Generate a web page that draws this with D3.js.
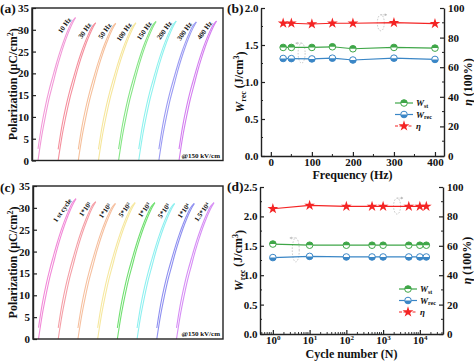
<!DOCTYPE html>
<meta charset="utf-8">
<script src="https://d3js.org/d3.v7.min.js"></script>
<style>
  body { margin: 0; background: #fff; }
  text { font-family: "Liberation Serif", "Times New Roman", serif; font-weight: bold; fill: #111; }
</style>
<div id="chart"></div>
<script>

  // ---------------- data ----------------
  // P-E loops (a): frequency series
  var freqLabels = ["10 Hz", "30 Hz", "50 Hz", "100 Hz", "150 Hz", "200 Hz", "300 Hz", "400 Hz"];
  var freqPmax = [32.8, 31.6, 31.5, 31.6, 31.9, 32.0, 31.8, 32.0];
  var freqColors = ["#f29ad8", "#f5909e", "#f6c09c", "#f6e69c", "#86e686", "#8ff2ee", "#9c9cf3", "#d47ff0"];

  // P-E loops (c): cycling series
  var cycleLabels = ["1 st cycle", "1*10¹", "1*10²", "5*10²", "1*10³", "5*10³", "1*10⁴", "1.5*10⁴"];
  var cyclePmax = [32.1, 31.4, 31.0, 31.2, 31.2, 31.0, 31.0, 31.2];
  var cycleColors = ["#f28ad8", "#f5a0a8", "#f6c0a0", "#f6e8a0", "#72e072", "#8ff0f0", "#8f90f0", "#d78ff5"];

  // shared loop shape (kV/cm, uC/cm2 for a loop reaching 32)
  var fieldKV = [0, 15, 30, 45, 60, 75, 90, 105, 120, 135, 150];
  var chargeP = [0, 5.5, 10, 14, 17.3, 20.6, 23.5, 26.1, 28.4, 30.4, 32];
  var dischargeP = [2.6, 8.0, 12.3, 15.9, 19.0, 22.0, 24.7, 27.1, 29.2, 31.0, 32];

  // (b) energy storage vs frequency
  var freq = [30, 50, 100, 150, 200, 300, 400];
  var wstFreq = [1.467, 1.467, 1.467, 1.476, 1.449, 1.467, 1.458];
  var wrecFreq = [1.318, 1.316, 1.312, 1.322, 1.297, 1.322, 1.305];
  var etaFreq = [89.7, 89.7, 89.2, 89.7, 89.7, 90.1, 89.4];

  // (d) energy storage vs cycle number
  var cycles = [1, 10, 100, 500, 1000, 5000, 10000, 15000];
  var wstCyc = [1.53, 1.51, 1.51, 1.51, 1.51, 1.51, 1.51, 1.51];
  var wrecCyc = [1.30, 1.32, 1.31, 1.31, 1.31, 1.31, 1.31, 1.31];
  var etaCyc = [85.2, 87.5, 86.8, 86.8, 86.8, 86.8, 86.8, 86.8];

  var green = "#3fa648", blue = "#3a86c6", red = "#f42424";

  var svg = d3.select("#chart").append("svg")
    .attr("width", 474)
    .attr("height", 361);

  function styleAxis(sel) {
    sel.select(".domain").attr("stroke", "#222").attr("stroke-width", 1.4);
    sel.selectAll(".tick line").attr("stroke", "#222").attr("stroke-width", 1.2);
    sel.selectAll(".tick text").style("font-size", "11px");
  }

  function panelLetter(x, y, s) {
    svg.append("text").attr("x", x).attr("y", y).style("font-size", "13.5px").text(s);
  }

  // ---------------- P-E loop panels ----------------
  function loopPanel(p, labels, pmax, colors, firstX, lastX) {
    var y = d3.scaleLinear().domain([0, 35]).range([p.bottom, p.top]);
    var pos = d3.scalePoint().domain(labels).range([firstX, lastX]);
    var e = d3.scaleLinear().domain([0, 150]).range([0, 37.5]);
    var g = svg.append("g");

    labels.forEach(function (lab, i) {
      var k = pmax[i] / 32;
      var x0 = pos(lab);
      var line = d3.line()
        .x(function (d) { return x0 + e(d[0]); })
        .y(function (d) { return y(d[1] * k); })
        .curve(d3.curveMonotoneX);
      [chargeP, dischargeP].forEach(function (branch) {
        g.append("path")
          .datum(fieldKV.map(function (f, j) { return [f, branch[j]]; }))
          .attr("d", line)
          .attr("fill", "none")
          .attr("stroke", colors[i])
          .attr("stroke-width", 1.1);
      });
      g.append("text")
        .attr("transform", "translate(" + (x0 + e(150) - 4) + "," + (y(pmax[i]) + 2) + ") rotate(-55)")
        .attr("text-anchor", "end")
        .style("font-size", "7px")
        .text(lab);
    });

    g.append("rect")
      .attr("x", p.left).attr("y", p.top)
      .attr("width", p.right - p.left).attr("height", p.bottom - p.top)
      .attr("fill", "none").attr("stroke", "#222").attr("stroke-width", 1.4);

    var ax = g.append("g")
      .attr("transform", "translate(" + p.left + ",0)")
      .call(d3.axisLeft(y).tickValues(d3.range(0, 36, 5)).tickSize(-4).tickSizeOuter(0).tickPadding(3));
    styleAxis(ax);

    g.append("text")
      .attr("x", p.right - 3).attr("y", p.bottom - 3)
      .attr("text-anchor", "end")
      .style("font-size", "7px")
      .text("@150 kV/cm");

    var yl = g.append("text")
      .attr("transform", "translate(16.5," + ((p.top + p.bottom) / 2) + ") rotate(-90)")
      .attr("text-anchor", "middle")
      .style("font-size", "12px");
    yl.append("tspan").text("Polarization (μC/cm");
    yl.append("tspan").attr("dy", "-0.45em").style("font-size", "8px").text("2");
    yl.append("tspan").attr("dy", "0.45em").text(")");
  }

  loopPanel({ left: 32, right: 223, top: 8, bottom: 160.5 }, freqLabels, freqPmax, freqColors, 38, 179);
  loopPanel({ left: 33, right: 223, top: 186, bottom: 339 }, cycleLabels, cyclePmax, cycleColors, 38.5, 176.5);

  // ---------------- performance panels ----------------
  function halfCircle(g, cx, cy, color, top) {
    var r = 3.3;
    g.append("circle").attr("cx", cx).attr("cy", cy).attr("r", r)
      .attr("fill", "#fff").attr("stroke", color).attr("stroke-width", 1);
    g.append("path")
      .attr("d", "M" + (cx - r) + "," + cy + "A" + r + "," + r + " 0 0 " + (top ? 1 : 0) + " " + (cx + r) + "," + cy + "Z")
      .attr("fill", color);
  }

  var star = d3.symbol().type(d3.symbolStar).size(36);

  function drawStar(g, cx, cy) {
    g.append("path").attr("d", star).attr("transform", "translate(" + cx + "," + cy + ")").attr("fill", red);
  }

  function noteEllipse(g, cx, cy, ry, dir) {
    g.append("ellipse").attr("cx", cx).attr("cy", cy).attr("rx", 3.5).attr("ry", ry)
      .attr("fill", "none").attr("stroke", "#b8b8b8").attr("stroke-width", 0.8).attr("stroke-dasharray", "1.5,1.5");
    var ay = cy - ry;
    g.append("path").attr("d", "M" + cx + "," + ay + "h" + (dir * 6))
      .attr("stroke", "#b8b8b8").attr("stroke-width", 0.8).attr("stroke-dasharray", "1.5,1");
    g.append("path").attr("d", "M" + (cx + dir * 6) + "," + ay + "l" + (-dir * 2) + ",-1.5v3z").attr("fill", "#b8b8b8");
  }

  function wLabel(sel, sub, big, small) {
    sel.append("tspan").style("font-style", "italic").style("font-size", big).text("W");
    sel.append("tspan").attr("dy", "0.3em").style("font-size", small).text(sub);
  }

  function perfPanel(p, x, xs, wst, wrec, eta, leftMax, legendY, legendX, xTickFn, notes) {
    var g = svg.append("g");
    var yL = d3.scaleLinear().domain([0, leftMax]).range([p.bottom, p.top]);
    var yR = d3.scaleLinear().domain([0, 100]).range([p.bottom, p.top]);

    // axes
    var la = g.append("g").attr("transform", "translate(" + p.left + ",0)")
      .call(d3.axisLeft(yL).tickValues(d3.range(0, leftMax + 0.01, 0.5)).tickFormat(d3.format(".1f"))
        .tickSize(-4).tickSizeOuter(0).tickPadding(2.5));
    styleAxis(la);
    var ra = g.append("g").attr("transform", "translate(" + p.right + ",0)")
      .call(d3.axisRight(yR).tickValues(d3.range(0, 101, 20)).tickSize(-4).tickSizeOuter(0).tickPadding(4));
    styleAxis(ra);
    // minor y ticks
    d3.range(0.25, leftMax, 0.5).forEach(function (v) {
      g.append("line").attr("x1", p.left).attr("x2", p.left + 2).attr("y1", yL(v)).attr("y2", yL(v))
        .attr("stroke", "#222").attr("stroke-width", 1);
    });
    d3.range(10, 100, 20).forEach(function (v) {
      g.append("line").attr("x1", p.right).attr("x2", p.right - 2).attr("y1", yR(v)).attr("y2", yR(v))
        .attr("stroke", "#222").attr("stroke-width", 1);
    });
    var ba = g.append("g").attr("transform", "translate(0," + p.bottom + ")");
    xTickFn(ba, g);

    // notes
    notes(g, yL, yR);

    // lines
    var lineL = d3.line().x(function (d, i) { return x(xs[i]); }).y(function (d) { return yL(d); });
    var lineR = d3.line().x(function (d, i) { return x(xs[i]); }).y(function (d) { return yR(d); });
    g.append("path").attr("d", lineL(wst)).attr("fill", "none").attr("stroke", green).attr("stroke-width", 1.2);
    g.append("path").attr("d", lineL(wrec)).attr("fill", "none").attr("stroke", blue).attr("stroke-width", 1.2);
    g.append("path").attr("d", lineR(eta)).attr("fill", "none").attr("stroke", red).attr("stroke-width", 1.2);

    xs.forEach(function (v, i) {
      halfCircle(g, x(v), yL(wst[i]), green, true);
      halfCircle(g, x(v), yL(wrec[i]), blue, false);
      drawStar(g, x(v), yR(eta[i]));
    });

    // legend
    var items = [
      { color: green, kind: "st" },
      { color: blue, kind: "rec" },
      { color: red, kind: "eta" }
    ];
    items.forEach(function (it, i) {
      var ly = legendY[i];
      g.append("line").attr("x1", legendX).attr("x2", legendX + 18).attr("y1", ly).attr("y2", ly)
        .attr("stroke", it.color).attr("stroke-width", 1.2).attr("stroke-dasharray", it.kind === "eta" ? "3,1.5" : null);
      if (it.kind === "st") halfCircle(g, legendX + 9, ly, green, true);
      else if (it.kind === "rec") halfCircle(g, legendX + 9, ly, blue, false);
      else drawStar(g, legendX + 9, ly);
      var t = g.append("text").attr("x", legendX + 21).attr("y", ly + 3);
      if (it.kind === "eta") t.append("tspan").style("font-style", "italic").style("font-size", "9px").text("η");
      else wLabel(t, it.kind, "9px", "6px");
    });

    // axis titles
    var cy = (p.top + p.bottom) / 2;
    var lt = g.append("text")
      .attr("transform", "translate(" + (p.left - 17) + "," + cy + ") rotate(-90)")
      .attr("text-anchor", "middle").style("font-size", "12px");
    wLabel(lt, "rec", "12px", "8px");
    lt.append("tspan").attr("dy", "-0.3em").text(" (J/cm");
    lt.append("tspan").attr("dy", "-0.45em").style("font-size", "8px").text("3");
    lt.append("tspan").attr("dy", "0.45em").text(")");

    var rt = g.append("text")
      .attr("transform", "translate(" + (p.right + 28) + "," + cy + ") rotate(-90)")
      .attr("text-anchor", "middle").style("font-size", "12px");
    rt.append("tspan").style("font-style", "italic").text("η");
    rt.append("tspan").text(" (100%)");
  }

  // (b)
  var pB = { left: 261, right: 444, top: 8, bottom: 156 };
  var xB = d3.scaleLinear().domain([-24, 422]).range([pB.left, pB.right]);
  perfPanel(pB, xB, freq, wstFreq, wrecFreq, etaFreq, 2.0, [103, 114.5, 126], 395,
    function (ba, g) {
      ba.call(d3.axisBottom(xB).tickValues([0, 100, 200, 300, 400]).tickSize(-4).tickSizeOuter(0).tickPadding(2.5));
      styleAxis(ba);
      [50, 150, 250, 350].forEach(function (v) {
        g.append("line").attr("x1", xB(v)).attr("x2", xB(v)).attr("y1", pB.bottom).attr("y2", pB.bottom - 2)
          .attr("stroke", "#222").attr("stroke-width", 1);
      });
      g.append("text").attr("x", (pB.left + pB.right) / 2).attr("y", 179)
        .attr("text-anchor", "middle").style("font-size", "12px").text("Frequency (Hz)");
    },
    function (g, yL, yR) {
      noteEllipse(g, xB(75), yL(1.39), 10, -1);
      noteEllipse(g, xB(268), yR(90), 8, 1);
    });

  // (d)
  var pD = { left: 260, right: 443, top: 187, bottom: 334 };
  var xD = d3.scaleLog().domain([Math.pow(10, -0.35), Math.pow(10, 4.63)]).range([pD.left, pD.right]);
  perfPanel(pD, xD, cycles, wstCyc, wrecCyc, etaCyc, 2.5, [289, 300.5, 312], 399,
    function (ba, g) {
      ba.call(d3.axisBottom(xD).tickValues([1, 10, 100, 1000, 10000]).tickFormat("").tickSize(-4).tickSizeOuter(0).tickPadding(2));
      styleAxis(ba);
      ba.selectAll(".tick text").each(function (d) {
        var t = d3.select(this);
        t.text(null);
        t.append("tspan").text("10");
        t.append("tspan").attr("dy", "-0.5em").style("font-size", "7px").text(Math.round(Math.log10(d)));
      });
      d3.range(-1, 5).forEach(function (dec) {
        d3.range(2, 10).forEach(function (m) {
          var v = m * Math.pow(10, dec);
          if (v < xD.domain()[0] || v > xD.domain()[1]) return;
          g.append("line").attr("x1", xD(v)).attr("x2", xD(v)).attr("y1", pD.bottom).attr("y2", pD.bottom - 2)
            .attr("stroke", "#222").attr("stroke-width", 0.9);
        });
      });
      g.append("text").attr("x", (pD.left + pD.right) / 2).attr("y", 358)
        .attr("text-anchor", "middle").style("font-size", "12px").text("Cycle number (N)");
    },
    function (g, yL, yR) {
      noteEllipse(g, xD(4.2), yL(1.43), 12, -1);
      noteEllipse(g, xD(2400), yR(87), 8, 1);
    });

  panelLetter(0, 13, "(a)");
  panelLetter(227, 13, "(b)");
  panelLetter(0, 192, "(c)");
  panelLetter(227, 191, "(d)");

</script>
